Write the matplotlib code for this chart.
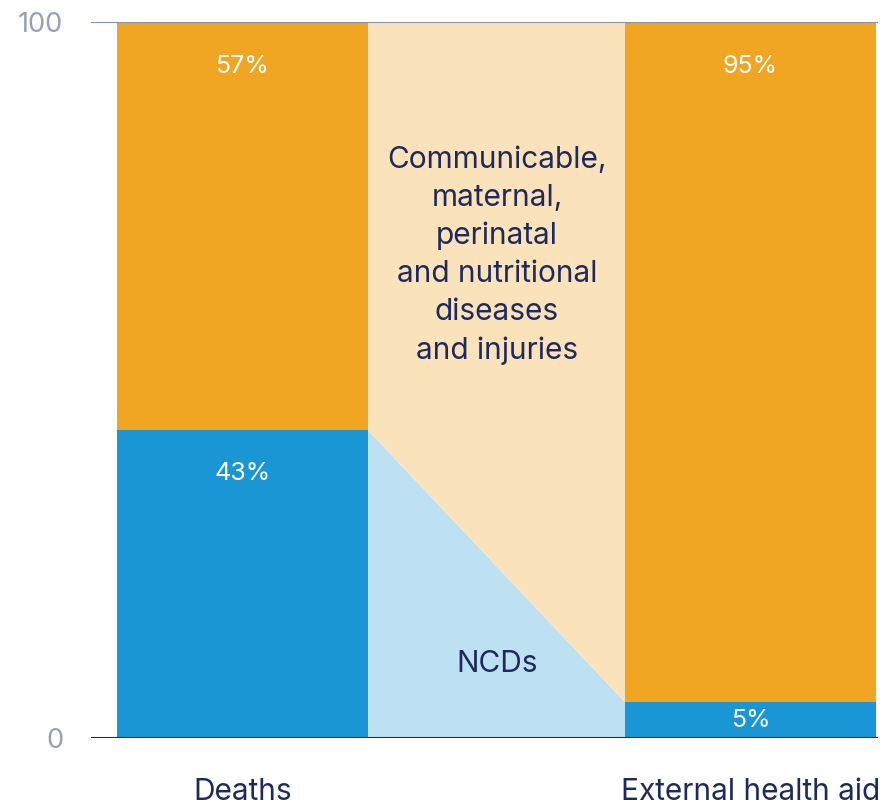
import numpy as np
import matplotlib.pyplot as plt

plt.rcParams['font.family'] = ['Inter', 'DejaVu Sans']

categories = ['Deaths', 'External health aid']
ncd_share = [43, 5]
other_share = [57, 95]
middle_label = 'Communicable,\nmaternal,\nperinatal\nand nutritional\ndiseases\nand injuries'
ncd_label = 'NCDs'

orange = '#F0A523'
blue = '#1B96D4'
light_orange = '#FAE3BA'
light_blue = '#BDE0F2'
navy = '#1F2A5C'
grey = '#9A9FB8'

fig = plt.figure(figsize=(8.88, 8.06), dpi=100)
ax = fig.add_axes([91/888, 1-738/806, (878-91)/888, (738-22)/806])

pos = np.array([0, 2])
w = 0.988
ax.bar(pos, ncd_share, width=w, color=blue, zorder=2)
ax.bar(pos, other_share, bottom=ncd_share, width=w, color=orange, zorder=2)

# connector between the two bars
xl, xr = pos[0] + w/2, pos[1] - w/2
ax.fill([xl, xl, xr, xr], [0, ncd_share[0], ncd_share[1], 0], color=light_blue, lw=0, zorder=1)
ax.fill([xl, xl, xr, xr], [ncd_share[0], 100, 100, ncd_share[1]], color=light_orange, lw=0, zorder=1)

ax.axhline(100, color='#8890A8', lw=1.5, zorder=3)
ax.axhline(0, color=navy, lw=1.5, zorder=3)

for i in range(2):
    ax.text(pos[i], 93.8, f'{other_share[i]}%', color='white', fontsize=18, ha='center', va='center', zorder=4)
ax.text(pos[0], 36.9, f'{ncd_share[0]}%', color='white', fontsize=18, ha='center', va='center', zorder=4)
ax.text(pos[1], ncd_share[1]/2, f'{ncd_share[1]}%', color='white', fontsize=18, ha='center', va='center', zorder=4)

ax.text(1.002, 67.4, middle_label, color=navy, fontsize=21.5, ha='center', va='center',
        linespacing=1.45, zorder=4)
ax.text(1.002, 10.3, ncd_label, color=navy, fontsize=21.5, ha='center', va='center', zorder=4)

for i in range(2):
    ax.text(pos[i], -7.5, categories[i], color=navy, fontsize=21.5, ha='center', va='center', clip_on=False)

ax.set_xlim(-0.596, 2.502)
ax.set_ylim(0, 100)
ax.set_xticks([])
ax.set_yticks([0, 100])
ax.set_yticklabels(['0', '100'], color=grey, fontsize=19.5)
ax.tick_params(axis='y', length=0, pad=20)
for s in ax.spines.values():
    s.set_visible(False)

fig.savefig('out.png', dpi=100)
